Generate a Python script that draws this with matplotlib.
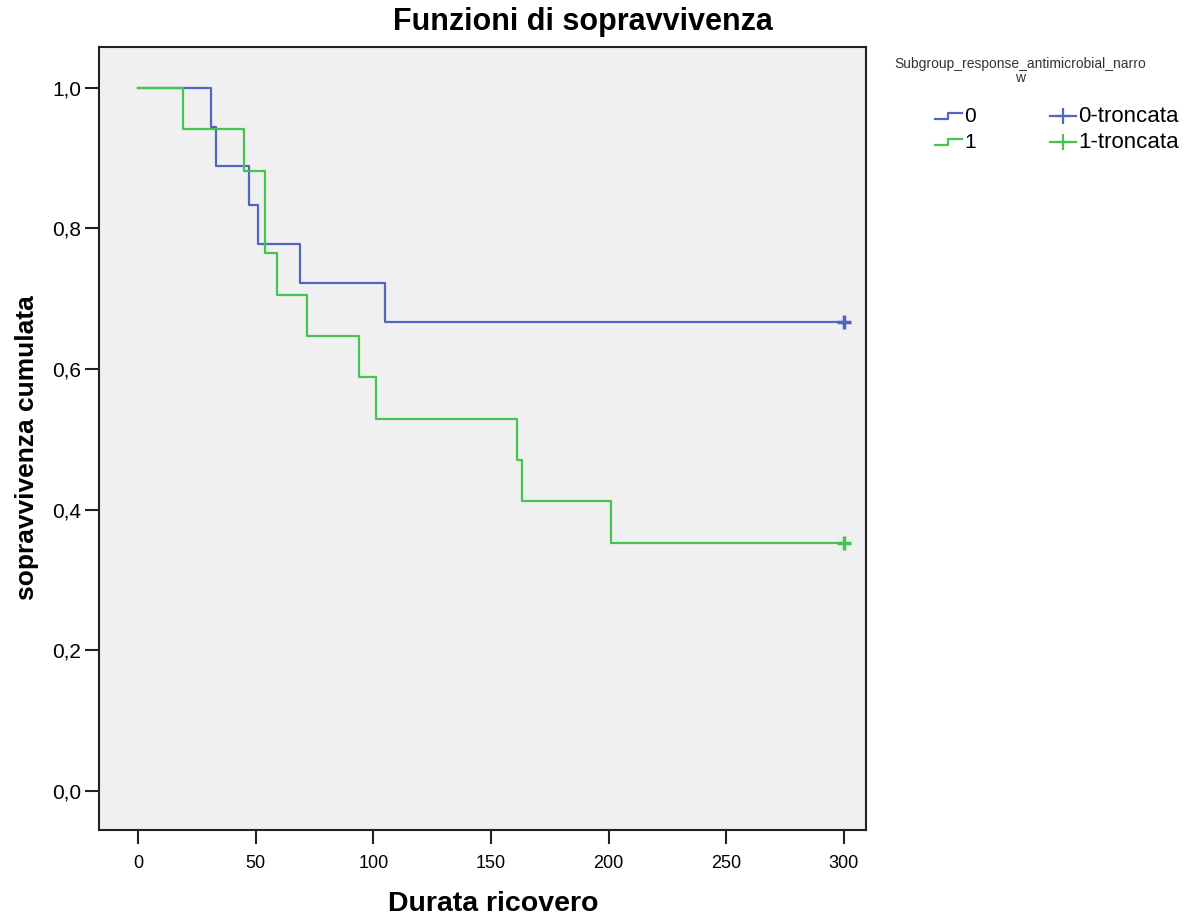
import numpy as np
import matplotlib.pyplot as plt
from matplotlib.lines import Line2D

plt.rcParams['font.family'] = ['Liberation Sans', 'DejaVu Sans']
narrow = ['Liberation Sans Narrow', 'Liberation Sans']

# survival steps (group 0 and group 1)
t0 = [0, 31, 33, 47, 51, 69, 105, 300]
s0 = [1.0, 0.944, 0.889, 0.833, 0.778, 0.722, 0.667, 0.667]
t1 = [0, 19, 45, 54, 59, 72, 94, 101, 161, 163, 201, 300]
s1 = [1.0, 0.941, 0.882, 0.765, 0.706, 0.647, 0.588, 0.529, 0.471, 0.412, 0.353, 0.353]
cens0 = [300]
cens0_s = [0.667]
cens1 = [300]
cens1_s = [0.353]

xticks = [0, 50, 100, 150, 200, 250, 300]
yticks = [0.0, 0.2, 0.4, 0.6, 0.8, 1.0]
ytick_labels = ['0,0', '0,2', '0,4', '0,6', '0,8', '1,0']

blue = '#4f66c2'
green = '#45c452'

fig = plt.figure(figsize=(11.89, 9.18), dpi=100)
ax = fig.add_axes([0.0833, 0.0959, 0.7283 - 0.0833, 0.9488 - 0.0959])
ax.set_facecolor('#f0f0f0')

ax.step(t0, s0, where='post', color=blue, lw=1.6)
ax.step(t1, s1, where='post', color=green, lw=1.6)
ax.plot(cens0, cens0_s, ls='none', marker='+', ms=10, mew=2.5, color=blue)
ax.plot(cens1, cens1_s, ls='none', marker='+', ms=10, mew=2.5, color=green)

ax.set_xlim(-16.6, 309.4)
ax.set_ylim(-0.0555, 1.058)
ax.set_xticks(xticks)
ax.set_xticklabels([str(v) for v in xticks], family=narrow, fontsize=13)
ax.set_yticks(yticks)
ax.set_yticklabels(ytick_labels, fontsize=15)
ax.tick_params(direction='out', length=10, width=1.5, color='#222222')
ax.tick_params(axis='x', pad=8)
ax.tick_params(axis='y', pad=3)
for sp in ax.spines.values():
    sp.set_linewidth(1.5)
    sp.set_color('#222222')

fig.text(0.49, 0.976, 'Funzioni di sopravvivenza', ha='center', va='center',
         fontsize=22, fontweight='bold')
ax.set_xlabel('Durata ricovero', fontsize=20.5, fontweight='bold', family=narrow)
ax.xaxis.set_label_coords(0.514, -0.078)
ax.set_ylabel('sopravvivenza cumulata', fontsize=19, fontweight='bold')
ax.yaxis.set_label_coords(-0.078, 0.488)

# legend drawn outside the axes, as in the SPSS output
W, H = 1189.0, 918.0
fig.text(1020 / W, 1 - 71 / H, 'Subgroup_response_antimicrobial_narro\nw',
         ha='center', va='center', fontsize=10, linespacing=1.0,
         family=narrow, color='#333333')
rows = [(116, '0', blue), (142, '1', green)]
for y, lab, c in rows:
    xs = np.array([935, 948, 948, 962]) / W
    ys = 1 - np.array([y + 3, y + 3, y - 3, y - 3]) / H
    fig.add_artist(Line2D(xs, ys, color=c, lw=1.6, transform=fig.transFigure))
    fig.text(964 / W, 1 - (y + 1) / H, lab, va='center', fontsize=15)
    fig.add_artist(Line2D([1050 / W, 1076 / W], [1 - y / H, 1 - y / H], color=c, lw=1.6,
                          transform=fig.transFigure))
    fig.add_artist(Line2D([1063 / W], [1 - y / H], color=c, marker='+', ms=11, mew=1.6,
                          ls='none', transform=fig.transFigure))
    fig.text(1078 / W, 1 - (y + 1) / H, lab + '-troncata', va='center', fontsize=16)

fig.savefig('out.png', dpi=100, facecolor='white')
